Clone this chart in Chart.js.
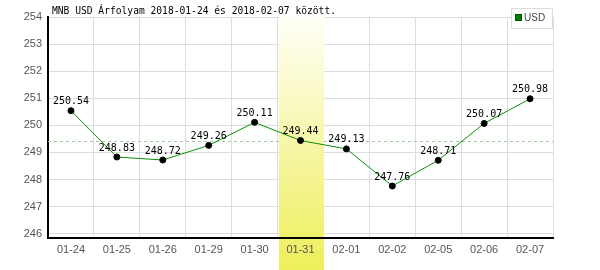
<!DOCTYPE html>
<html>
<head>
<meta charset="utf-8">
<script src="https://cdn.jsdelivr.net/npm/chart.js@4"></script>
<style>
  body { margin: 0; background: #fff; }
</style>
</head>
<body>
<canvas id="myChart" width="600" height="270"></canvas>
<script>
const labels = ['01-24', '01-25', '01-26', '01-29', '01-30', '01-31', '02-01', '02-02', '02-05', '02-06', '02-07'];
const usd = [250.54, 248.83, 248.72, 249.26, 250.11, 249.44, 249.13, 247.76, 248.71, 250.07, 250.98];
const highlightDay = '01-31';
const yMin = 245.84;
const yMax = 254;
const titleText = 'MNB USD Árfolyam 2018-01-24 és 2018-02-07 között.';
const legendText = 'USD';

const average = usd.reduce((a, b) => a + b, 0) / usd.length;

// highlighted day + dashed average line, under the data line
const backdrop = {
    id: 'backdrop',
    beforeDatasetsDraw(chart) {
        const {ctx, chartArea, scales} = chart;
        const x = scales.x;
        const i = labels.indexOf(highlightDay);
        const half = (x.getPixelForValue(1) - x.getPixelForValue(0)) / 2;
        const c = x.getPixelForValue(i);
        ctx.save();
        const yAvg = scales.y.getPixelForValue(average);
        ctx.strokeStyle = '#9fcf9f';
        ctx.lineWidth = 1;
        ctx.setLineDash([3, 3]);
        ctx.beginPath();
        ctx.moveTo(chartArea.left, Math.round(yAvg) + 0.5);
        ctx.lineTo(chartArea.right, Math.round(yAvg) + 0.5);
        ctx.stroke();
        ctx.setLineDash([]);
        const g = ctx.createLinearGradient(0, chartArea.top, 0, chart.height);
        g.addColorStop(0, '#fffff6');
        g.addColorStop(1, '#eeee5a');
        ctx.fillStyle = g;
        ctx.fillRect(Math.round(c - half) + 1, chartArea.top, Math.round(2 * half) - 1, chart.height - chartArea.top);
        ctx.restore();
    },
    afterDatasetsDraw(chart) {
        const {ctx} = chart;
        const meta = chart.getDatasetMeta(0);
        ctx.save();
        ctx.font = '10px "DejaVu Sans Mono"';
        ctx.fillStyle = '#000';
        ctx.textAlign = 'center';
        ctx.textBaseline = 'alphabetic';
        meta.data.forEach((p, i) => {
            ctx.fillText(usd[i].toFixed(2), p.x, p.y - 6.5);
        });
        ctx.restore();
    },
    afterDraw(chart) {
        const {ctx} = chart;
        ctx.save();
        ctx.font = '10px "DejaVu Sans Mono"';
        ctx.fillStyle = '#000';
        ctx.textBaseline = 'alphabetic';
        ctx.fillText(titleText, 52, 14, 284);
        // legend box
        ctx.fillStyle = '#fff';
        ctx.fillRect(511, 8, 42, 20);
        ctx.strokeStyle = '#dddddd';
        ctx.strokeRect(511.5, 8.5, 41, 20);
        ctx.fillStyle = '#008000';
        ctx.fillRect(516, 15, 6, 6);
        ctx.strokeStyle = '#005500';
        ctx.strokeRect(515.5, 14.5, 6, 6);
        ctx.fillStyle = '#444';
        ctx.font = '10px "Liberation Sans"';
        ctx.textBaseline = 'middle';
        ctx.fillText(legendText, 524, 18.5);
        ctx.restore();
    }
};

const ctx = document.getElementById('myChart').getContext('2d');
const myChart = new Chart(ctx, {
    type: 'line',
    data: {
        labels: labels,
        datasets: [{
            label: legendText,
            data: usd,
            borderColor: '#0a900a',
            borderWidth: 1,
            pointRadius: 3,
            pointBorderWidth: 1,
            pointBackgroundColor: '#000',
            pointBorderColor: '#000',
            tension: 0
        }]
    },
    options: {
        responsive: false,
        animation: false,
        layout: { padding: { top: 17, right: 47, left: 0, bottom: 0 } },
        plugins: {
            legend: { display: false },
            title: { display: false },
            tooltip: { enabled: false }
        },
        scales: {
            x: {
                offset: true,
                grid: { offset: true, color: '#dddddd', drawTicks: false },
                border: { color: '#000', width: 2, z: 1 },
                ticks: { color: '#555', font: { family: 'Liberation Sans', size: 11 }, padding: 5, maxRotation: 0, autoSkip: false, z: 1 },
                afterFit: s => { s.height = 32; }
            },
            y: {
                min: yMin,
                max: yMax,
                grid: { color: '#dddddd', drawTicks: false },
                border: { color: '#000', width: 2 },
                ticks: { stepSize: 1, includeBounds: false, color: '#555', font: { family: 'Liberation Sans', size: 11 }, padding: 6 },
                afterFit: s => { s.width = 48; }
            }
        }
    },
    plugins: [backdrop]
});
</script>
</body>
</html>
